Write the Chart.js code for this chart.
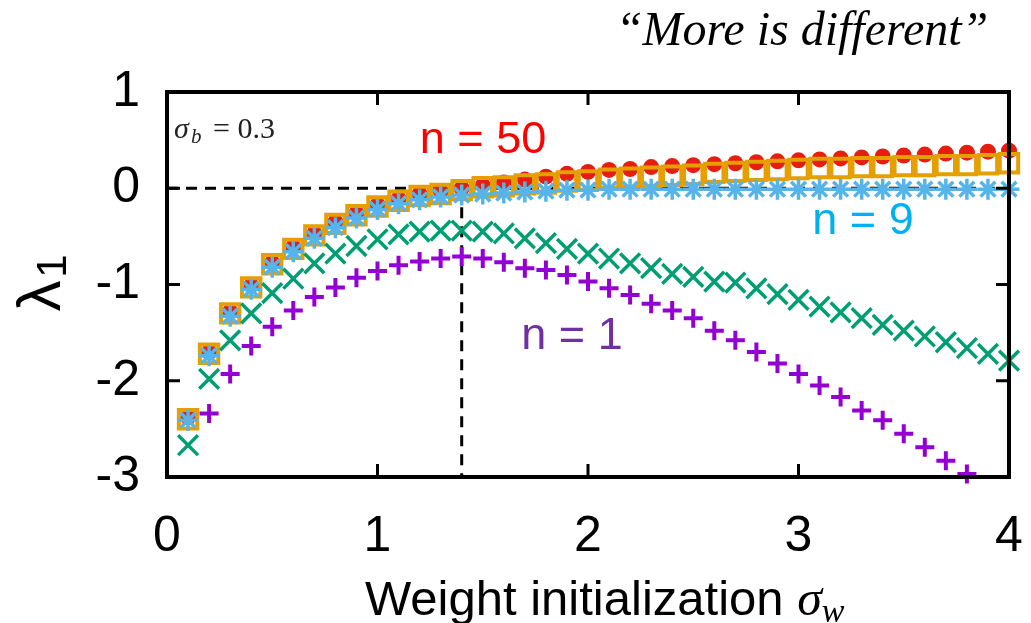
<!DOCTYPE html>
<html>
<head>
<meta charset="utf-8">
<script src="https://cdn.jsdelivr.net/npm/chart.js@4"></script>
<style>
  body { margin: 0; background: #fff; }
  #wrap { width: 1031px; height: 623px; }
</style>
</head>
<body>
<div id="wrap"><canvas id="myChart"></canvas></div>
<script>
const sigmaW = [0.1, 0.2, 0.3, 0.4, 0.5, 0.6, 0.7, 0.8, 0.9, 1.0,
    1.1, 1.2, 1.3, 1.4, 1.5, 1.6, 1.7, 1.8, 1.9, 2.0,
    2.1, 2.2, 2.3, 2.4, 2.5, 2.6, 2.7, 2.8, 2.9, 3.0,
    3.1, 3.2, 3.3, 3.4, 3.5, 3.6, 3.7, 3.8, 3.9, 4.0];

// n = 50
const lambdaN50 = [-2.38, -1.70, -1.28, -1.01, -0.77, -0.61, -0.47, -0.35, -0.26, -0.17,
    -0.11, -0.06, -0.03, 0.00, 0.03, 0.06, 0.09, 0.12, 0.15, 0.17,
    0.19, 0.20, 0.22, 0.23, 0.24, 0.25, 0.26, 0.27, 0.28, 0.29,
    0.30, 0.31, 0.32, 0.33, 0.34, 0.35, 0.36, 0.37, 0.38, 0.39];
// orange squares
const lambdaSquares = [-2.40, -1.72, -1.30, -1.03, -0.79, -0.63, -0.49, -0.37, -0.28, -0.19,
    -0.13, -0.08, -0.06, -0.02, 0.01, 0.02, 0.04, 0.05, 0.07, 0.08,
    0.10, 0.11, 0.12, 0.13, 0.14, 0.16, 0.17, 0.18, 0.19, 0.20,
    0.21, 0.21, 0.22, 0.22, 0.23, 0.23, 0.24, 0.24, 0.25, 0.26];
// n = 9
const lambdaN9 = [-2.41, -1.74, -1.33, -1.05, -0.82, -0.66, -0.52, -0.41, -0.31, -0.22,
    -0.16, -0.12, -0.09, -0.07, -0.06, -0.05, -0.04, -0.03, -0.02, -0.02,
    -0.01, -0.01, -0.01, -0.01, -0.01, -0.01, -0.01, -0.01, -0.01, -0.01,
    -0.01, -0.01, -0.01, -0.01, -0.01, -0.01, -0.01, -0.01, -0.01, -0.01];
// green crosses
const lambdaCrosses = [-2.67, -1.98, -1.58, -1.30, -1.09, -0.94, -0.78, -0.68, -0.60, -0.53,
    -0.48, -0.45, -0.44, -0.44, -0.45, -0.47, -0.52, -0.57, -0.63, -0.68,
    -0.73, -0.78, -0.83, -0.89, -0.92, -0.97, -0.98, -1.04, -1.10, -1.16,
    -1.23, -1.29, -1.35, -1.42, -1.48, -1.54, -1.60, -1.66, -1.72, -1.79];
// n = 1
const lambdaN1 = [null, -2.34, -1.93, -1.64, -1.44, -1.27, -1.13, -1.03, -0.93, -0.86,
    -0.80, -0.76, -0.73, -0.71, -0.73, -0.77, -0.83, -0.85, -0.90, -0.97,
    -1.04, -1.11, -1.20, -1.27, -1.35, -1.48, -1.58, -1.70, -1.82, -1.93,
    -2.05, -2.17, -2.31, -2.41, -2.55, -2.69, -2.83, -2.97, null, null];

const zeroLineX = [0, 4];
const zeroLineY = [0, 0];
const criticalX = [1.4, 1.4];
const criticalY = [0, -3];

const xTicks = [0, 1, 2, 3, 4];
const yTicks = [-3, -2, -1, 0, 1];

function pts(xs, ys) {
    return xs.map((x, i) => ({ x: x, y: ys[i] }));
}

function markers(ys, style, radius, color, width, order, fill) {
    return {
        data: pts(sigmaW, ys),
        showLine: false,
        pointStyle: style,
        pointRadius: radius,
        pointHoverRadius: radius,
        pointBorderColor: color,
        pointBackgroundColor: fill || 'transparent',
        pointBorderWidth: width,
        order: order,
        clip: false
    };
}

function dashed(xs, ys) {
    return {
        data: pts(xs, ys),
        showLine: true,
        borderColor: '#000',
        borderWidth: 3,
        borderDash: [11, 8],
        pointRadius: 0,
        order: 10
    };
}

const framePlugin = {
    id: 'frame',
    afterDatasetsDraw(chart) {
        const { ctx, chartArea: a, scales } = chart;
        ctx.save();
        ctx.strokeStyle = '#000';
        ctx.lineWidth = 3;
        xTicks.slice(1, -1).forEach(v => {
            const px = scales.x.getPixelForValue(v);
            ctx.beginPath();
            ctx.moveTo(px, a.top); ctx.lineTo(px, a.top + 13);
            ctx.moveTo(px, a.bottom); ctx.lineTo(px, a.bottom - 13);
            ctx.stroke();
        });
        yTicks.slice(1, -1).forEach(v => {
            const py = scales.y.getPixelForValue(v);
            ctx.beginPath();
            ctx.moveTo(a.left, py); ctx.lineTo(a.left + 13, py);
            ctx.moveTo(a.right, py); ctx.lineTo(a.right - 13, py);
            ctx.stroke();
        });
        ctx.lineWidth = 4;
        ctx.strokeRect(a.left, a.top, a.right - a.left, a.bottom - a.top);

        // labels
        ctx.textAlign = 'center';
        ctx.textBaseline = 'middle';
        ctx.font = '45px "Liberation Sans", Arial, sans-serif';
        ctx.fillStyle = '#ff0000';
        ctx.fillText('n = 50', 483, 141);
        ctx.fillStyle = '#00b0f0';
        ctx.fillText('n = 9', 863, 222);
        ctx.fillStyle = '#7030a0';
        ctx.fillText('n = 1', 572, 337);

        // sigma_b annotation
        ctx.fillStyle = '#222';
        ctx.textAlign = 'left';
        ctx.textBaseline = 'alphabetic';
        ctx.font = 'italic 30px "Liberation Serif", serif';
        ctx.fillText('σ', 174, 138);
        ctx.font = 'italic 21px "Liberation Serif", serif';
        ctx.fillText('b', 191, 143);
        ctx.font = '30px "Liberation Serif", serif';
        ctx.fillText('= 0.3', 213, 138);

        // top quote
        ctx.fillStyle = '#000';
        ctx.font = 'italic 48px "Liberation Serif", "Times New Roman", serif';
        ctx.textAlign = 'center';
        ctx.fillText('“More is different”', 802, 45);

        // y title
        ctx.save();
        ctx.translate(60, 288);
        ctx.rotate(-Math.PI / 2);
        ctx.textAlign = 'center';
        ctx.font = '62px "Liberation Sans", Arial, sans-serif';
        ctx.fillText('λ', -8, 0);
        ctx.font = '42px "Liberation Sans", Arial, sans-serif';
        ctx.fillText('1', 22, 6);
        ctx.restore();

        // x title
        ctx.textAlign = 'left';
        ctx.font = '49px "Liberation Sans", Arial, sans-serif';
        const t = 'Weight initialization ';
        ctx.fillText(t, 365, 615);
        const w = ctx.measureText(t).width;
        ctx.font = 'italic 50px "Liberation Serif", serif';
        ctx.fillText('σ', 365 + w, 615);
        const ws = ctx.measureText('σ').width;
        ctx.font = 'italic 34px "Liberation Serif", serif';
        ctx.fillText('w', 365 + w + ws, 622);
        ctx.restore();
    }
};

const ctx = document.getElementById('myChart').getContext('2d');

const config = {
    type: 'scatter',
    data: {
        datasets: [
            markers(lambdaN50, 'circle', 8, '#e51e10', 0, 6, '#e51e10'),
            markers(lambdaSquares, 'rect', 13, '#e69f00', 4, 5),
            markers(lambdaCrosses, 'crossRot', 14, '#009e73', 3.5, 4),
            markers(lambdaN1, 'cross', 9.5, '#9400d3', 4, 3),
            markers(lambdaN9, 'star', 10.5, '#56b4e9', 3.5, 2),
            dashed(zeroLineX, zeroLineY),
            dashed(criticalX, criticalY)
        ]
    },
    options: {
        responsive: true,
        maintainAspectRatio: false,
        animation: false,
        events: [],
        layout: { padding: { left: 0, top: 92, right: 22, bottom: 0 } },
        plugins: {
            legend: { display: false },
            tooltip: { enabled: false }
        },
        scales: {
            x: {
                type: 'linear',
                min: 0,
                max: 4,
                afterFit: s => { s.height = 146; },
                afterBuildTicks: s => { s.ticks = xTicks.map(v => ({ value: v })); },
                grid: { display: false, drawTicks: true, tickLength: 30 },
                border: { display: false },
                ticks: {
                    color: '#000',
                    padding: 0,
                    maxRotation: 0,
                    font: { size: 50, family: '"Liberation Sans", Arial, sans-serif' }
                }
            },
            y: {
                type: 'linear',
                min: -3,
                max: 1,
                afterFit: s => { s.width = 167; },
                afterBuildTicks: s => { s.ticks = yTicks.map(v => ({ value: v })); },
                grid: { display: false, drawTicks: false },
                border: { display: false },
                ticks: {
                    color: '#000',
                    padding: 27,
                    font: { size: 50, family: '"Liberation Sans", Arial, sans-serif' }
                }
            }
        }
    },
    plugins: [framePlugin]
};

const myChart = new Chart(ctx, config);
</script>
</body>
</html>
